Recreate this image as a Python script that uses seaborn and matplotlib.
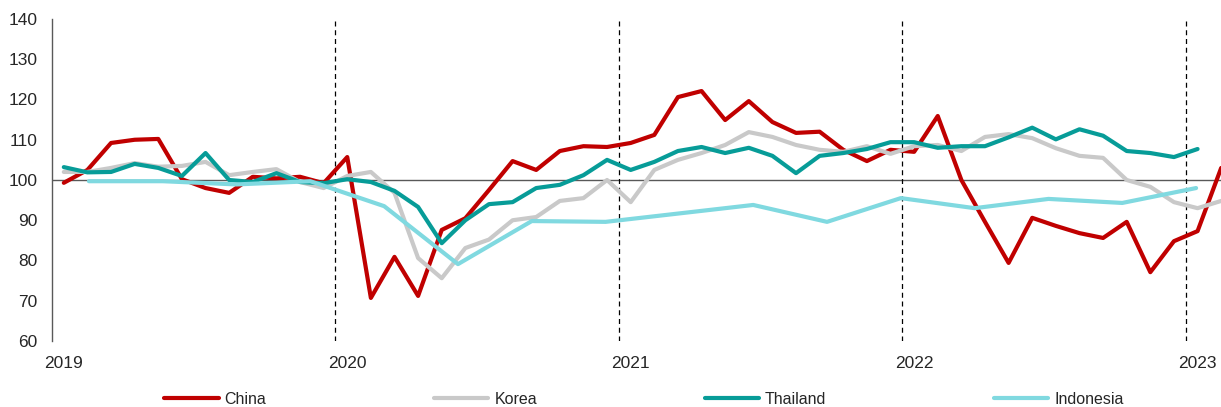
import numpy as np
import pandas as pd
import matplotlib
matplotlib.use("Agg")
import matplotlib.pyplot as plt
from matplotlib.lines import Line2D
import seaborn as sns

# monthly index values, Jan 2019 - Feb 2023
china = [99.3, 102.5, 109.2, 110.0, 110.2, 100.2, 98.0, 96.8, 100.8, 100.4, 100.8, 99.2,
         105.7, 70.7, 80.9, 71.2, 87.6, 90.5, 97.5, 104.7, 102.5, 107.2, 108.4, 108.2,
         109.2, 111.2, 120.6, 122.1, 114.9, 119.6, 114.4, 111.7, 112.0, 107.5, 104.7, 107.5,
         107.0, 115.9, 100.0, 89.6, 79.4, 90.6, 88.6, 86.8, 85.6, 89.6, 77.1, 84.8,
         87.3, 103.0]
korea = [102.0, 102.0, 103.0, 104.2, 103.3, 103.5, 104.5, 101.2, 102.0, 102.7, 99.5, 98.0,
         101.0, 102.0, 96.8, 80.6, 75.6, 83.1, 85.2, 90.0, 90.8, 94.8, 95.5, 100.0,
         94.5, 102.5, 105.0, 106.7, 108.7, 111.9, 110.7, 108.7, 107.5, 107.0, 108.4, 106.5,
         108.4, 108.7, 107.2, 110.7, 111.4, 110.4, 107.9, 106.0, 105.5, 100.0, 98.3, 94.5,
         93.0, 94.8]
thailand = [103.2, 101.9, 102.0, 104.0, 103.0, 101.0, 106.7, 100.0, 99.5, 101.7, 99.5, 99.2,
            100.2, 99.5, 97.3, 93.3, 84.3, 90.0, 94.0, 94.5, 98.0, 98.8, 101.2, 105.0,
            102.5, 104.5, 107.2, 108.2, 106.7, 108.0, 106.0, 101.7, 106.0, 106.7, 107.7, 109.4,
            109.4, 108.0, 108.4, 108.4, 110.6, 113.0, 110.1, 112.6, 111.0, 107.2, 106.7, 105.7,
            107.7]
# quarterly series, 16 points spread over the same span
indonesia = [99.7, 99.7, 98.9, 99.7, 93.5, 79.1, 89.8, 89.6,
             91.7, 93.8, 89.6, 95.5, 93.0, 95.3, 94.3, 98.0]

years = ["2019", "2020", "2021", "2022", "2023"]
names = ["China", "Korea", "Thailand", "Indonesia"]
colors = ["#C00000", "#C9C9C9", "#079C98", "#80D9E0"]

n_months = len(china)
frames = []
for name, vals in [("China", china), ("Korea", korea), ("Thailand", thailand)]:
    frames.append(pd.DataFrame({"x": np.arange(len(vals)), "value": vals, "country": name}))
# place quarterly points at centres of 16 equal slots across the month range
k = np.arange(len(indonesia))
idn_x = -0.5 + (k + 0.5) * n_months / len(indonesia)
frames.append(pd.DataFrame({"x": idn_x, "value": indonesia, "country": "Indonesia"}))
df = pd.concat(frames, ignore_index=True)

sns.set_style("white")
plt.rcParams["font.family"] = ["Liberation Sans", "DejaVu Sans"]

W, H = 1221, 407
fig = plt.figure(figsize=(W / 100, H / 100), dpi=100)
# plot area runs past the right edge of the picture (cropped like the original)
ax = fig.add_axes([52 / W, (H - 341) / H, 1181 / W, 322 / H])

sns.lineplot(data=df, x="x", y="value", hue="country", hue_order=names,
             palette=dict(zip(names, colors)), linewidth=3, legend=False, ax=ax,
             estimator=None, sort=True)

ax.axhline(100, color="#595959", linewidth=1, zorder=0)
for yr in range(1, 5):
    ax.axvline(12 * yr - 0.5, color="black", linewidth=0.9, linestyle=(0, (4, 3)), zorder=0)

ax.set_xlim(-0.5, n_months - 0.5)
ax.set_ylim(60, 140)
ax.set_yticks(range(60, 141, 10))
ax.set_xticks([12 * i for i in range(len(years))])
ax.set_xticklabels(years)
ax.tick_params(axis="y", length=0, pad=10.5, labelsize=12.5)
ax.tick_params(axis="x", length=0, pad=10.5, labelsize=12.5)
ax.set_xlabel("")
ax.set_ylabel("")
for s in ["top", "right", "bottom"]:
    ax.spines[s].set_visible(False)
ax.spines["left"].set_color("#595959")
ax.spines["left"].set_linewidth(1)

handles = [Line2D([0], [0], color=c, linewidth=3) for c in colors]
fig.legend(handles, names, loc="center", bbox_to_anchor=(644 / W, 1 - 399 / H),
           ncol=4, frameon=False, fontsize=11.5, handlelength=3.4,
           handletextpad=0.37, columnspacing=10.5)

fig.savefig("out.png", dpi=100)
